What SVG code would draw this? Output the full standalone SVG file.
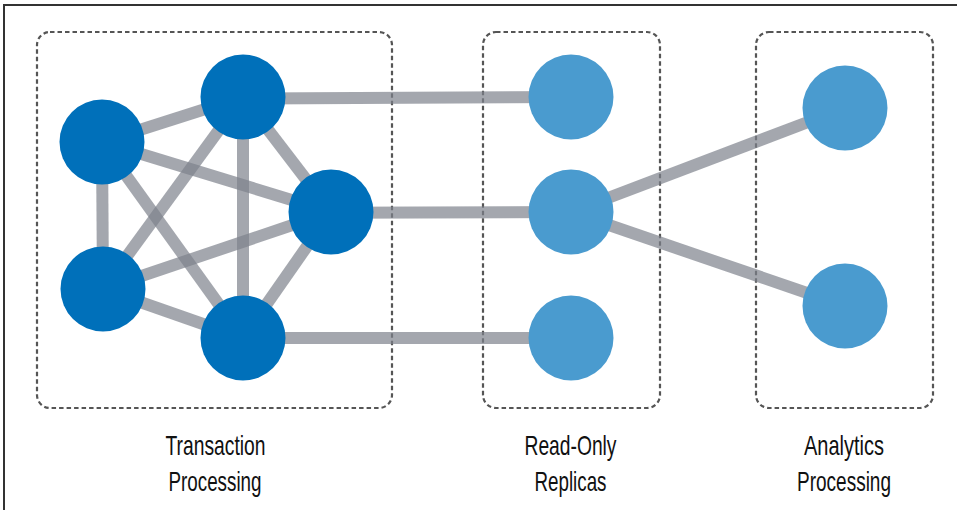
<svg xmlns="http://www.w3.org/2000/svg" width="957" height="510" viewBox="0 0 957 510">
<style>
.frame{stroke:#333;stroke-width:2;fill:none}
.box{fill:none;stroke:#555;stroke-width:2.2;stroke-dasharray:4.5 3}
.edge{stroke:#7d818c;stroke-opacity:0.7;stroke-width:12;fill:none}
.dark{fill:#0070ba}
.light{fill:#4a9bcf}
.lbl{font-family:"Liberation Sans",Arial,sans-serif;font-size:28px;fill:#111;text-anchor:middle}
</style>
<rect width="957" height="510" fill="#fff"/>
<path class="frame" d="M4,510 V5 H957"/>
<g id="groups">
<rect class="box" x="37" y="32" width="355" height="376" rx="13"/>
<rect class="box" x="483" y="32" width="177" height="376" rx="13"/>
<rect class="box" x="756" y="32" width="177" height="376" rx="13"/>
</g>
<g id="connectors">
<line class="edge" x1="102" y1="142" x2="243" y2="97"/>
<line class="edge" x1="102" y1="142" x2="331" y2="212"/>
<line class="edge" x1="102" y1="142" x2="103" y2="289"/>
<line class="edge" x1="102" y1="142" x2="243" y2="338"/>
<line class="edge" x1="243" y1="97" x2="103" y2="289"/>
<line class="edge" x1="243" y1="97" x2="331" y2="212"/>
<line class="edge" x1="243" y1="97" x2="243" y2="338"/>
<line class="edge" x1="331" y1="212" x2="103" y2="289"/>
<line class="edge" x1="331" y1="212" x2="243" y2="338"/>
<line class="edge" x1="103" y1="289" x2="243" y2="338"/>
<line class="edge" x1="243" y1="98.5" x2="571" y2="97"/>
<line class="edge" x1="331" y1="212.7" x2="571" y2="212"/>
<line class="edge" x1="243" y1="338" x2="571" y2="338"/>
<line class="edge" x1="571" y1="212" x2="845" y2="108"/>
<line class="edge" x1="571" y1="212" x2="845" y2="306"/>
</g>
<g id="tp1"><circle class="dark" cx="102" cy="142" r="42.5"/></g>
<g id="tp2"><circle class="dark" cx="243" cy="97" r="42.5"/></g>
<g id="tp3"><circle class="dark" cx="331" cy="212" r="42.5"/></g>
<g id="tp4"><circle class="dark" cx="103" cy="289" r="42.5"/></g>
<g id="tp5"><circle class="dark" cx="243" cy="338" r="42.5"/></g>
<g id="ro1"><circle class="light" cx="571" cy="97" r="42.5"/></g>
<g id="ro2"><circle class="light" cx="571" cy="212" r="42.5"/></g>
<g id="ro3"><circle class="light" cx="571" cy="338" r="42.5"/></g>
<g id="an1"><circle class="light" cx="845" cy="108" r="42.5"/></g>
<g id="an2"><circle class="light" cx="845" cy="306" r="42.5"/></g>
<g id="labels">
<text class="lbl" x="215.5" y="455" textLength="100" lengthAdjust="spacingAndGlyphs">Transaction</text>
<text class="lbl" x="215" y="491" textLength="93" lengthAdjust="spacingAndGlyphs">Processing</text>
<text class="lbl" x="570.5" y="455" textLength="92" lengthAdjust="spacingAndGlyphs">Read-Only</text>
<text class="lbl" x="570.5" y="491" textLength="72" lengthAdjust="spacingAndGlyphs">Replicas</text>
<text class="lbl" x="844" y="455" textLength="80" lengthAdjust="spacingAndGlyphs">Analytics</text>
<text class="lbl" x="844" y="491" textLength="94" lengthAdjust="spacingAndGlyphs">Processing</text>
</g>
</svg>
